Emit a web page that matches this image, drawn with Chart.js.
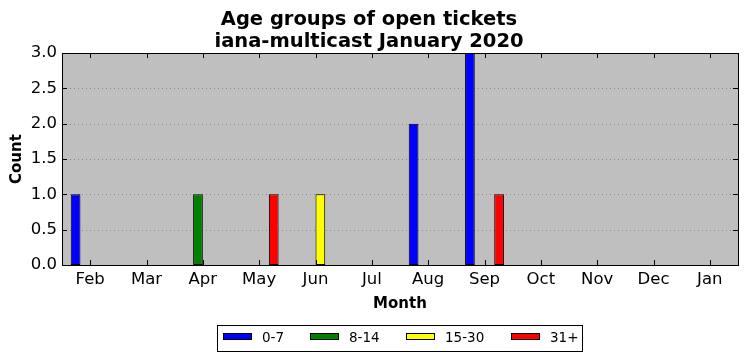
<!DOCTYPE html>
<html lang="en">
<head>
    <meta charset="UTF-8">
    <title>Age groups of open tickets</title>
    <script src="https://cdn.jsdelivr.net/npm/chart.js"></script>
    <style>
        body { margin: 0; padding: 0; background: #ffffff; }
        canvas { display: block; }
    </style>
</head>
<body>
    <canvas id="ticketChart" width="747" height="361"></canvas>

    <script>
        // Data
        const months = ['Feb', 'Mar', 'Apr', 'May', 'Jun', 'Jul', 'Aug', 'Sep', 'Oct', 'Nov', 'Dec', 'Jan'];
        const ageGroups = ['0-7', '8-14', '15-30', '31+'];
        const groupColors = ['#0000ff', '#008000', '#ffff00', '#ff0000'];
        const days0to7   = [1, 0, 0, 0, 0, 0, 2, 3, 0, 0, 0, 0];
        const days8to14  = [0, 0, 1, 0, 0, 0, 0, 0, 0, 0, 0, 0];
        const days15to30 = [0, 0, 0, 0, 1, 0, 0, 0, 0, 0, 0, 0];
        const days31plus = [0, 0, 0, 1, 0, 0, 0, 1, 0, 0, 0, 0];
        const seriesValues = [days0to7, days8to14, days15to30, days31plus];

        const FONT = 'DejaVu Sans';

        // grey plot background, frame and inward tick marks (matplotlib classic look)
        const frameAndTicks = {
            id: 'frameAndTicks',
            beforeDatasetsDraw(chart) {
                const { ctx, chartArea: a } = chart;
                ctx.save();
                ctx.fillStyle = '#bfbfbf';
                ctx.fillRect(a.left, a.top, a.right - a.left, a.bottom - a.top);
                // dotted horizontal grid
                ctx.strokeStyle = '#8a8a8a';
                ctx.lineWidth = 1;
                ctx.setLineDash([1, 3]);
                const y = chart.scales.y;
                y.ticks.forEach((t, i) => {
                    if (t.value <= 0 || t.value >= 3) return;
                    const py = Math.round(y.getPixelForTick(i)) + 0.5;
                    ctx.beginPath();
                    ctx.moveTo(a.left, py);
                    ctx.lineTo(a.right, py);
                    ctx.stroke();
                });
                ctx.restore();
            },
            afterDatasetsDraw(chart) {
                const { ctx, chartArea: a } = chart;
                ctx.save();
                ctx.strokeStyle = '#000000';
                ctx.lineWidth = 1;
                const x = chart.scales.x;
                const y = chart.scales.y;
                ctx.beginPath();
                x.ticks.forEach((t, i) => {
                    const px = Math.round(x.getPixelForTick(i)) + 0.5;
                    ctx.moveTo(px, a.bottom); ctx.lineTo(px, a.bottom - 5);
                    ctx.moveTo(px, a.top); ctx.lineTo(px, a.top + 5);
                });
                y.ticks.forEach((t, i) => {
                    const py = Math.round(y.getPixelForTick(i)) + 0.5;
                    ctx.moveTo(a.left, py); ctx.lineTo(a.left + 5, py);
                    ctx.moveTo(a.right, py); ctx.lineTo(a.right - 5, py);
                });
                ctx.stroke();
                ctx.strokeRect(Math.round(a.left) + 0.5, Math.round(a.top) + 0.5,
                    Math.round(a.right - a.left), Math.round(a.bottom - a.top));
                ctx.restore();
            }
        };

        // boxed legend under the x axis title
        const boxedLegend = {
            id: 'boxedLegend',
            afterDraw(chart) {
                const ctx = chart.ctx;
                const boxLeft = 217, boxTop = 325, boxW = 365, boxH = 26;
                ctx.save();
                ctx.fillStyle = '#ffffff';
                ctx.fillRect(boxLeft, boxTop, boxW, boxH);
                ctx.strokeStyle = '#000000';
                ctx.lineWidth = 1;
                ctx.strokeRect(boxLeft + 0.5, boxTop + 0.5, boxW, boxH);
                ctx.font = '13.5px ' + FONT;
                ctx.textBaseline = 'middle';
                const itemX = [223, 310, 406, 511];
                chart.data.datasets.forEach((ds, i) => {
                    const sx = itemX[i];
                    ctx.fillStyle = ds.backgroundColor;
                    ctx.fillRect(sx, 333, 29, 6);
                    ctx.strokeRect(sx + 0.5, 333.5, 28, 6);
                    ctx.fillStyle = '#000000';
                    ctx.fillText(ds.label, sx + 39, 338);
                });
                ctx.restore();
            }
        };

        const ctx = document.getElementById('ticketChart').getContext('2d');
        new Chart(ctx, {
            type: 'bar',
            data: {
                labels: months,
                datasets: ageGroups.map((label, i) => ({
                    label: label,
                    data: seriesValues[i],
                    backgroundColor: groupColors[i],
                    borderColor: '#000000',
                    borderWidth: 1,
                    borderSkipped: false,
                    categoryPercentage: 0.69,
                    barPercentage: 1.0
                }))
            },
            options: {
                responsive: false,
                animation: false,
                layout: { padding: { left: 0, right: 9, top: 0, bottom: 48 } },
                plugins: {
                    legend: { display: false },
                    tooltip: { enabled: false },
                    title: {
                        display: true,
                        text: ['Age groups of open tickets', 'iana-multicast January 2020'],
                        color: '#000000',
                        font: { family: FONT, size: 19.5, weight: 'bold', lineHeight: 1.13 },
                        padding: { top: 9, bottom: 0 }
                    }
                },
                scales: {
                    x: {
                        grid: { display: false, drawTicks: false },
                        border: { display: false },
                        ticks: { color: '#000000', font: { family: FONT, size: 16.5 }, padding: 5, maxRotation: 0 },
                        title: {
                            display: true,
                            text: 'Month',
                            color: '#000000',
                            font: { family: FONT, size: 15, weight: 'bold' },
                            padding: { top: 4, bottom: 0 }
                        },
                        afterFit(scale) { scale.height = 48; }
                    },
                    y: {
                        min: 0,
                        max: 3,
                        grid: { display: false, drawTicks: false },
                        border: { display: false },
                        ticks: {
                            stepSize: 0.5,
                            color: '#000000',
                            font: { family: FONT, size: 16.5 },
                            padding: 5,
                            callback: v => Number(v).toFixed(1)
                        },
                        title: {
                            display: true,
                            text: 'Count',
                            color: '#000000',
                            font: { family: FONT, size: 15, weight: 'bold' },
                            padding: { top: 8, bottom: 4 }
                        },
                        afterFit(scale) { scale.width = 62; }
                    }
                }
            },
            plugins: [frameAndTicks, boxedLegend]
        });
    </script>
</body>
</html>
